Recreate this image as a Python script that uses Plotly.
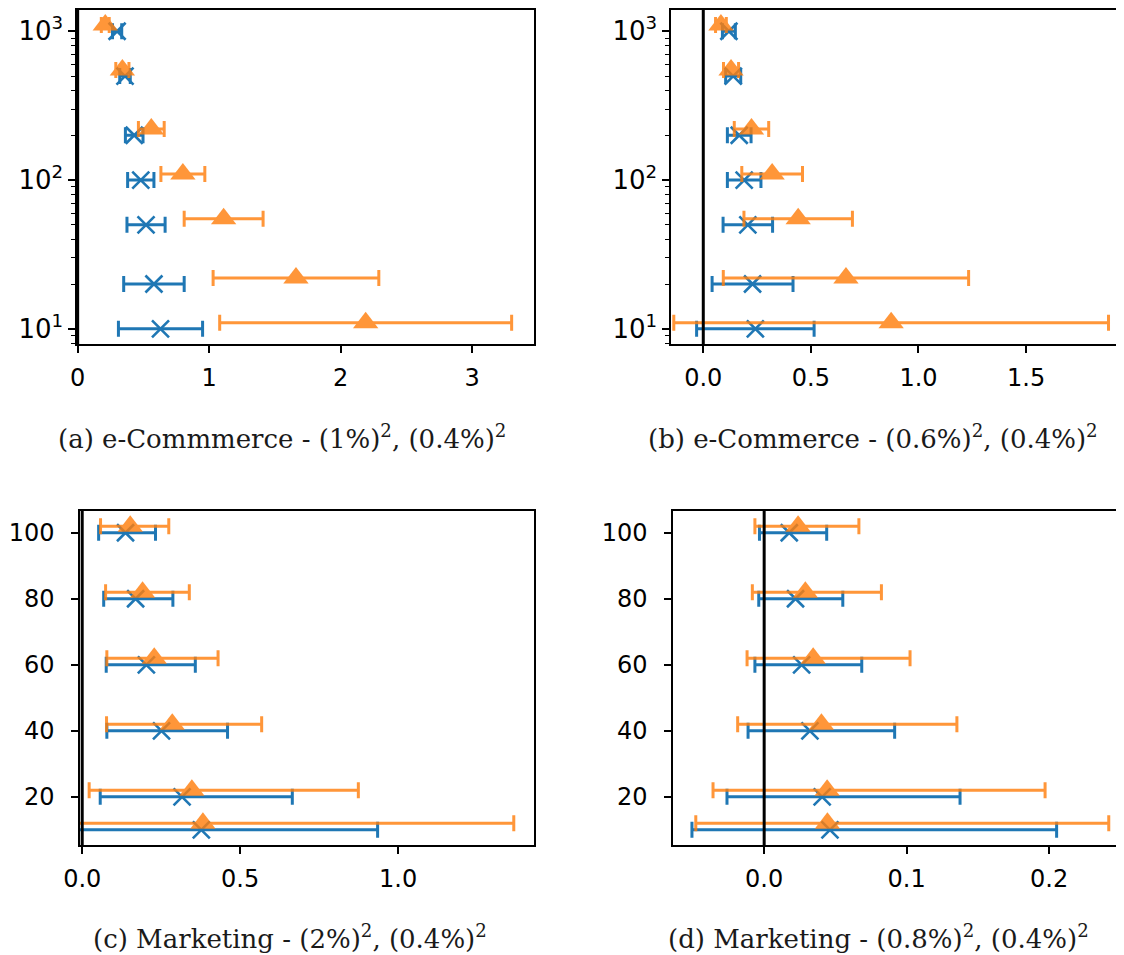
import numpy as np
import plotly.graph_objects as go

# ---------------- data ----------------
# top panels (log y)
y_top = [10, 20, 50, 100, 200, 500, 1000]
y_top_orange = [11, 22, 55, 110, 220, 550, 1100]

a_blue_x = [0.63, 0.58, 0.52, 0.48, 0.43, 0.36, 0.30]
a_blue_err = [0.32, 0.23, 0.145, 0.10, 0.067, 0.04, 0.035]
a_orange_x = [2.19, 1.66, 1.11, 0.80, 0.56, 0.34, 0.21]
a_orange_err = [1.11, 0.63, 0.30, 0.167, 0.098, 0.05, 0.03]

b_blue_x = [0.242, 0.229, 0.207, 0.19, 0.167, 0.139, 0.119]
b_blue_err = [0.273, 0.188, 0.115, 0.078, 0.055, 0.035, 0.03]
b_orange_x = [0.873, 0.663, 0.441, 0.32, 0.224, 0.129, 0.082]
b_orange_err = [1.01, 0.57, 0.252, 0.141, 0.08, 0.035, 0.025]

# bottom panels (linear y)
y_bot = [10, 20, 40, 60, 80, 100]
y_bot_orange = [12, 22, 42, 62, 82, 102]

c_blue_x = [0.377, 0.316, 0.251, 0.203, 0.169, 0.137]
c_blue_lo = [-0.18, 0.057, 0.078, 0.076, 0.068, 0.052]
c_blue_hi = [0.935, 0.665, 0.46, 0.358, 0.287, 0.232]
c_orange_x = [0.382, 0.347, 0.285, 0.228, 0.191, 0.152]
c_orange_lo = [-0.60, 0.022, 0.077, 0.078, 0.074, 0.058]
c_orange_hi = [1.366, 0.874, 0.568, 0.43, 0.339, 0.274]

d_blue_x = [0.0462, 0.0407, 0.0321, 0.0263, 0.022, 0.0176]
d_blue_lo = [-0.0507, -0.0261, -0.0113, -0.0065, -0.0038, -0.0033]
d_blue_hi = [0.2053, 0.1375, 0.0916, 0.0685, 0.0552, 0.0439]
d_orange_x = [0.0444, 0.0442, 0.0402, 0.0344, 0.0289, 0.0238]
d_orange_lo = [-0.048, -0.0359, -0.0186, -0.012, -0.0083, -0.0065]
d_orange_hi = [0.2419, 0.1972, 0.1353, 0.1024, 0.0823, 0.0665]

captions = [
    "(a) e-Commmerce - (1%)<sup>2</sup>, (0.4%)<sup>2</sup>",
    "(b) e-Commerce - (0.6%)<sup>2</sup>, (0.4%)<sup>2</sup>",
    "(c) Marketing - (2%)<sup>2</sup>, (0.4%)<sup>2</sup>",
    "(d) Marketing - (0.8%)<sup>2</sup>, (0.4%)<sup>2</sup>",
]

# ---------------- style ----------------
BLUE = "#1f77b4"
ORANGE = "#ff7f0e"
OFF = 8                      # page body margin
W, H = 1124 - OFF, 955 - OFF
TICKFONT = dict(family="DejaVu Sans", size=24, color="black")
LOGTICKFONT = dict(family="DejaVu Sans", size=26, color="black")


def px_x(p):
    return (p - OFF) / W


def px_y(p):
    return 1 - (p - OFF) / H


fig = go.Figure()


def add_pair(xa, ya, bx, by, bplus, bminus, ox, oy, oplus, ominus):
    fig.add_trace(go.Scatter(
        x=bx, y=by, mode="markers", xaxis=xa, yaxis=ya, showlegend=False,
        marker=dict(symbol="x-thin-open", size=17, color=BLUE,
                    line=dict(width=2.6, color=BLUE)),
        error_x=dict(type="data", symmetric=False, array=bplus, arrayminus=bminus,
                     color=BLUE, thickness=3, width=8),
    ))
    fig.add_trace(go.Scatter(
        x=ox, y=oy, mode="markers", xaxis=xa, yaxis=ya, showlegend=False,
        opacity=0.82,
        marker=dict(symbol="triangle-up", size=22, color=ORANGE),
        error_x=dict(type="data", symmetric=False, array=oplus, arrayminus=ominus,
                     color=ORANGE, thickness=3, width=8),
    ))


# panel a
add_pair("x", "y", a_blue_x, y_top, a_blue_err, a_blue_err,
         a_orange_x, y_top_orange, a_orange_err, a_orange_err)
# panel b
add_pair("x2", "y2", b_blue_x, y_top, b_blue_err, b_blue_err,
         b_orange_x, y_top_orange, b_orange_err, b_orange_err)
# panel c
cbx = np.array(c_blue_x); cox = np.array(c_orange_x)
add_pair("x3", "y3", c_blue_x, y_bot,
         list(np.array(c_blue_hi) - cbx), list(cbx - np.array(c_blue_lo)),
         c_orange_x, y_bot_orange,
         list(np.array(c_orange_hi) - cox), list(cox - np.array(c_orange_lo)))
# panel d
dbx = np.array(d_blue_x); dox = np.array(d_orange_x)
add_pair("x4", "y4", d_blue_x, y_bot,
         list(np.array(d_blue_hi) - dbx), list(dbx - np.array(d_blue_lo)),
         d_orange_x, y_bot_orange,
         list(np.array(d_orange_hi) - dox), list(dox - np.array(d_orange_lo)))


def xaxis(domain, rng, tickvals, ticktext, anchor):
    return dict(domain=domain, range=rng, anchor=anchor, automargin=False,
                tickvals=tickvals, ticktext=ticktext, ticklabelstandoff=4,
                showline=True, linecolor="black", linewidth=1.5, mirror=True,
                ticks="outside", ticklen=7, tickwidth=1.5, tickcolor="black",
                showgrid=False, zeroline=False, tickfont=TICKFONT)


def yaxis(domain, rng, anchor, mirror, log=False):
    d = dict(domain=domain, range=rng, anchor=anchor, automargin=False,
             showline=True, linecolor="black", linewidth=1.5, mirror=mirror,
             ticks="outside", ticklen=7, tickwidth=1.5, tickcolor="black",
             showgrid=False, zeroline=False, tickfont=TICKFONT)
    if log:
        minor_vals = [m * 10 ** e for e in range(0, 4) for m in range(2, 10)]
        d.update(type="log", tickvals=[10, 100, 1000], ticklabelstandoff=0,
                 tickfont=LOGTICKFONT,
                 ticktext=["10<sup>1</sup>", "10<sup>2</sup>", "10<sup>3</sup>"],
                 minor=dict(tickvals=minor_vals, ticks="outside", ticklen=4,
                            tickwidth=1.2, tickcolor="black", showgrid=False))
    else:
        d.update(tickvals=[20, 40, 60, 80, 100], ticklabelstandoff=12,
                 ticktext=["20", "40", "60", "80", "100"])
    return d


top_dom = [px_y(344), px_y(10)]
bot_dom = [px_y(845), px_y(511)]

fig.update_layout(
    template="none",
    width=W, height=H,
    margin=dict(l=0, r=0, t=0, b=0, autoexpand=False),
    paper_bgcolor="white", plot_bgcolor="white",
    xaxis=xaxis([px_x(77), px_x(534)], [-0.005, 3.47], [0, 1, 2, 3], ["0", "1", "2", "3"], "y"),
    yaxis=yaxis(top_dom, [0.898, 3.143], "x", True, log=True),
    xaxis2=xaxis([px_x(671), 1.0], [-0.15, 1.955], [0, 0.5, 1.0, 1.5], ["0.0", "0.5", "1.0", "1.5"], "y2"),
    yaxis2=yaxis(top_dom, [0.898, 3.143], "x2", False, log=True),
    xaxis3=xaxis([px_x(80), px_x(534)], [-0.007, 1.43], [0, 0.5, 1.0], ["0.0", "0.5", "1.0"], "y3"),
    yaxis3=yaxis(bot_dom, [5.4, 106.6], "x3", True),
    xaxis4=xaxis([px_x(673), 1.0], [-0.064, 0.2526], [0, 0.1, 0.2], ["0.0", "0.1", "0.2"], "y4"),
    yaxis4=yaxis(bot_dom, [5.4, 106.6], "x4", False),
)

# vertical reference line at x = 0 in every panel
for xr, yr in [("x", "y"), ("x2", "y2"), ("x3", "y3"), ("x4", "y4")]:
    fig.add_shape(type="line", xref=xr, yref=yr + " domain", x0=0, x1=0, y0=0, y1=1,
                  line=dict(color="black", width=3), layer="above")

# captions
cap_pos = [(282, 437), (873, 437), (290, 937), (878, 937)]
for txt, (cx, cy) in zip(captions, cap_pos):
    fig.add_annotation(text=txt, x=px_x(cx), y=px_y(cy), xref="paper", yref="paper",
                       showarrow=False, xanchor="center", yanchor="middle",
                       font=dict(family="DejaVu Serif", size=26, color="#1a1a1a"))

fig.write_html("out.html")
